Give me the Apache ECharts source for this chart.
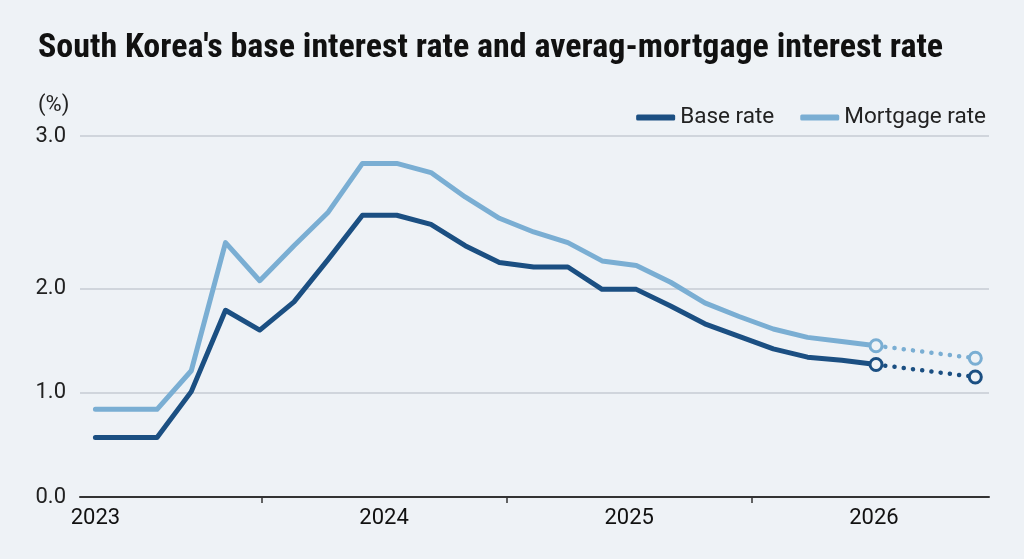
<!DOCTYPE html>
<html>
<head>
<meta charset="utf-8">
<script src="https://cdn.jsdelivr.net/npm/echarts@6/dist/echarts.min.js"></script>
<style>
html,body{margin:0;padding:0;background:#eef2f6;}
#c{width:1024px;height:559px;}
</style>
</head>
<body>
<div id="c"></div>
<script>
// period positions along the x axis (evenly spaced periods; first point slightly offset)
var periods = [0.2, 2, 3, 4, 5, 6, 7, 8, 9, 10, 11, 12, 13, 14, 15, 16, 17, 18, 19, 20, 21, 22, 23, 25.9];
// interest rates (%); last value is a projection (dotted)
var baseRate = [0.57, 0.57, 1.01, 1.79, 1.60, 1.87, 2.19, 2.48, 2.48, 2.42, 2.28, 2.17, 2.14, 2.14, 1.99, 1.99, 1.83, 1.66, 1.54, 1.42, 1.34, 1.31, 1.27, 1.15];
var mortgageRate = [0.84, 0.84, 1.21, 2.30, 2.05, 2.28, 2.50, 2.82, 2.82, 2.76, 2.60, 2.46, 2.37, 2.30, 2.18, 2.15, 2.04, 1.86, 1.73, 1.61, 1.53, 1.49, 1.45, 1.33];
var yearLabels = ['2023', '2024', '2025', '2026'];
var yearLabelPos = [0.2, 8.63, 15.79, 22.94];
var yearTickPos = [5.05, 12.22, 19.38];
var yTicks = [0, 1, 2, 3];
var titleText = "South Korea's base interest rate and averag-mortgage interest rate";

// the reference's y axis is stretched above 2.0 (piecewise scale)
var STRETCH = 1.46;
function ty(v) { return v <= 2 ? v : 2 + (v - 2) * STRETCH; }
function inv(t) { return t <= 2 ? t : 2 + (t - 2) / STRETCH; }

var DARK = '#1b4f82', LIGHT = '#7aaed3', BG = '#eef2f6';
var nSolid = periods.length - 1;

function pts(arr, from, to) {
  var out = [];
  for (var i = from; i < to; i++) out.push([periods[i], ty(arr[i])]);
  return out;
}

var font = 'Roboto, "Liberation Sans", sans-serif';
var chart = echarts.init(document.getElementById('c'), null, {renderer: 'canvas'});
chart.setOption({
  animation: false,
  backgroundColor: BG,
  textStyle: {fontFamily: font},
  title: [
    {text: titleText, left: 33, top: 26,
     textStyle: {fontFamily: '"Liberation Sans Narrow", "Roboto Condensed", sans-serif', fontWeight: 'bold', fontSize: 34, color: '#111'}},
    {text: '(%)', left: 33, top: 89, textStyle: {fontFamily: font, fontWeight: 'normal', fontSize: 22, color: '#222'}}
  ],
  legend: {
    data: ['Base rate', 'Mortgage rate'],
    right: 33, top: 101,
    icon: 'roundRect', itemWidth: 39, itemHeight: 6, itemGap: 26,
    textStyle: {fontSize: 22.5, color: '#222', fontFamily: font}
  },
  grid: {left: 80, right: 35, top: 136, bottom: 62},
  xAxis: {
    type: 'value', min: -0.25, max: 26.3,
    axisLine: {show: true, lineStyle: {color: '#333', width: 2}},
    axisTick: {show: true, customValues: yearTickPos, length: 6, lineStyle: {color: '#333', width: 1.5}},
    axisLabel: {customValues: yearLabelPos, margin: 10, fontSize: 22, color: '#111', fontFamily: font,
      formatter: function (v) {
        for (var i = 0; i < yearLabelPos.length; i++) if (Math.abs(yearLabelPos[i] - v) < 1e-6) return yearLabels[i];
        return '';
      }},
    splitLine: {show: false}
  },
  yAxis: {
    type: 'value', min: 0, max: ty(3),
    axisLine: {show: false},
    axisTick: {show: false, customValues: yTicks.map(ty)},
    axisLabel: {customValues: yTicks.map(ty), margin: 14, fontSize: 22, color: '#222', fontFamily: font,
      formatter: function (v) { return inv(v).toFixed(1); }},
    splitLine: {show: true, lineStyle: {color: '#d0d5dc', width: 2}}
  },
  series: [
    {name: 'Base rate', type: 'line', color: DARK, symbol: 'none', z: 3,
     lineStyle: {width: 5, color: DARK, cap: 'round', join: 'round'},
     data: pts(baseRate, 0, nSolid)},
    {name: 'Mortgage rate', type: 'line', color: LIGHT, symbol: 'none', z: 2,
     lineStyle: {width: 5, color: LIGHT, cap: 'round', join: 'round'},
     data: pts(mortgageRate, 0, nSolid)},
    {name: 'Base rate', type: 'line', color: DARK, symbol: 'circle', symbolSize: 12, showSymbol: true, z: 5,
     itemStyle: {color: BG, borderColor: DARK, borderWidth: 3},
     lineStyle: {width: 4.5, color: DARK, type: [0.1, 9.2], cap: 'round'},
     data: pts(baseRate, nSolid - 1, periods.length)},
    {name: 'Mortgage rate', type: 'line', color: LIGHT, symbol: 'circle', symbolSize: 12, showSymbol: true, z: 4,
     itemStyle: {color: BG, borderColor: LIGHT, borderWidth: 3},
     lineStyle: {width: 4.5, color: LIGHT, type: [0.1, 9.2], cap: 'round'},
     data: pts(mortgageRate, nSolid - 1, periods.length)}
  ]
});
</script>
</body>
</html>
